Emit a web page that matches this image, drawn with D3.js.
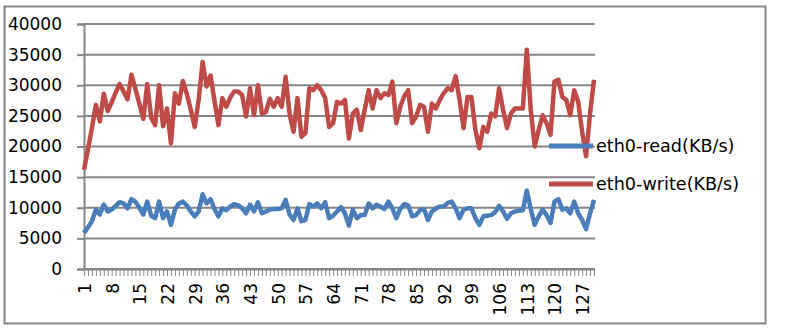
<!DOCTYPE html>
<html>
<head>
<meta charset="utf-8">
<script src="https://cdn.jsdelivr.net/npm/d3@7/dist/d3.min.js"></script>
<style>
  html, body { margin: 0; padding: 0; background: #fff; }
  svg { display: block; }
  text { font-family: "DejaVu Sans", sans-serif; fill: #000; }
</style>
</head>
<body>
<svg id="chart" width="808" height="330"></svg>
<script>
// Network throughput samples, one per interval (KB/s)
const samples = d3.range(1, 131);

const readKBs = [
  5900, 6800, 7800, 9700, 8900, 10500, 9400, 9700, 10300, 10900,
  10700, 9900, 11400, 11000, 10000, 8900, 11000, 8700, 8300, 11000,
  8300, 9400, 7200, 9700, 10700, 11000, 10400, 9400, 8600, 9400,
  12200, 10700, 11400, 9800, 8600, 9900, 9600, 10200, 10600, 10400,
  9900, 9100, 10500, 9400, 10900, 9100, 9400, 9700, 9800, 9800,
  9900, 11300, 8900, 8000, 9900, 7800, 8000, 10600, 10200, 10700,
  9900, 10900, 8300, 8700, 9400, 10100, 9100, 7100, 9700, 8300,
  8800, 8800, 10700, 9900, 10500, 10200, 9800, 11000, 9900, 8300,
  9800, 10600, 10400, 8600, 8800, 9600, 9800, 8000, 9400, 9900,
  10200, 10200, 10800, 11000, 9900, 8300, 9700, 9900, 9900, 8300,
  7200, 8600, 8700, 8800, 9300, 10300, 9400, 8200, 9100, 9400,
  9500, 9600, 12800, 9800, 7200, 8600, 9700, 8800, 7500, 11000,
  11400, 9700, 9900, 9100, 11000, 9100, 8000, 6500, 9100, 11300
];

const writeKBs = [
  16200, 19500, 23000, 26800, 24100, 28600, 25800, 27200, 28800, 30200,
  29000, 27700, 31700, 29400, 27000, 24500, 30200, 24700, 23500, 30000,
  23300, 26200, 20500, 28700, 27000, 30700, 28600, 26000, 23200, 27600,
  33800, 29800, 31600, 27500, 23500, 27900, 26500, 28000, 29000, 29000,
  28400, 24900, 29500, 25100, 30000, 25400, 25600, 27800, 26500, 27900,
  26500, 31400, 25300, 22400, 27900, 21600, 22200, 29500, 29200, 30000,
  29200, 27900, 23200, 23800, 27300, 27000, 27600, 21300, 25400, 26000,
  22700, 26000, 29200, 26200, 29200, 27900, 28700, 28400, 30600, 23800,
  26500, 28200, 29200, 23800, 24900, 26800, 26500, 22400, 27000, 26200,
  27600, 28700, 29500, 29200, 31500, 27600, 23000, 28100, 28100, 22700,
  19700, 23200, 22400, 25400, 24900, 29500, 26000, 23000, 25400, 26200,
  26200, 26200, 35800, 26000, 20000, 22700, 25100, 23800, 21900, 30600,
  30900, 28100, 27600, 25100, 29200, 27300, 22400, 18400, 25400, 30900
];

const yTickValues = [0, 5000, 10000, 15000, 20000, 25000, 30000, 35000, 40000];
const seriesNames = ["eth0-read(KB/s)", "eth0-write(KB/s)"];
const seriesColors = ["#4A7EBB", "#BE4B48"];

const svg = d3.select("#chart");
const plot = { left: 84, right: 594, top: 24, bottom: 269 };
const gridColor = "#868686";

// Outer chart frame
svg.append("rect")
  .attr("x", 4.5).attr("y", 6.5)
  .attr("width", 761).attr("height", 317)
  .attr("fill", "#fff")
  .attr("stroke", gridColor).attr("stroke-width", 2);

const x = d3.scalePoint().domain(samples).range([plot.left, plot.right]);
const y = d3.scaleLinear().domain([0, 40000]).range([plot.bottom, plot.top]);

// Horizontal gridlines
svg.append("g")
  .selectAll("line")
  .data(yTickValues)
  .join("line")
  .attr("x1", plot.left).attr("x2", plot.right + 1)
  .attr("y1", d => y(d)).attr("y2", d => y(d))
  .attr("stroke", gridColor).attr("stroke-width", 2);

// Value axis
const yAxis = svg.append("g")
  .attr("transform", `translate(${plot.left},0)`)
  .call(d3.axisLeft(y).tickValues(yTickValues).tickSize(7).tickPadding(15).tickFormat(d3.format("d")));
yAxis.select(".domain").attr("stroke", gridColor).attr("stroke-width", 2);
yAxis.selectAll(".tick line").attr("stroke", gridColor).attr("stroke-width", 2);
yAxis.selectAll(".tick text").attr("font-size", 17).style("font-family", "DejaVu Sans");

// Category axis with a tick per sample and a label every 7th
const xAxis = svg.append("g")
  .attr("transform", `translate(0,${plot.bottom})`)
  .call(d3.axisBottom(x).tickSize(7).tickSizeOuter(0).tickFormat(""));
xAxis.select(".domain").attr("stroke", gridColor).attr("stroke-width", 2);
xAxis.selectAll(".tick line").attr("stroke", gridColor).attr("stroke-width", 1);

svg.append("g")
  .selectAll("text")
  .data(samples.filter(d => (d - 1) % 7 === 0))
  .join("text")
  .attr("transform", d => `translate(${x(d) + 1},${plot.bottom + 14}) rotate(-90)`)
  .attr("text-anchor", "end")
  .attr("dy", "0.35em")
  .attr("font-size", 17)
  .text(d => d);

// Series lines
const line = d3.line().x((d, i) => x(samples[i])).y(d => y(d));
[readKBs, writeKBs].forEach((vals, k) => {
  svg.append("path")
    .datum(vals)
    .attr("fill", "none")
    .attr("stroke", seriesColors[k])
    .attr("stroke-width", 4.5)
    .attr("stroke-linejoin", "round")
    .attr("d", line);
});

// Legend
const legend = svg.append("g");
seriesNames.forEach((name, k) => {
  const ly = 146 + k * 38;
  legend.append("line")
    .attr("x1", 549).attr("x2", 593)
    .attr("y1", ly).attr("y2", ly)
    .attr("stroke", seriesColors[k]).attr("stroke-width", 5);
  legend.append("text")
    .attr("x", 596).attr("y", ly)
    .attr("dy", "0.35em")
    .attr("font-size", 17.6)
    .text(name);
});
</script>
</body>
</html>
